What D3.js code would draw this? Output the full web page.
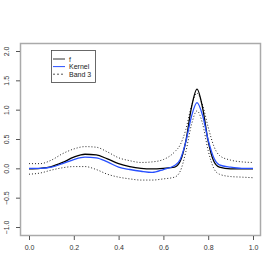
<!DOCTYPE html>
<html>
<head>
<meta charset="utf-8">
<script src="https://cdn.jsdelivr.net/npm/d3@7"></script>
<style>
  body { margin: 0; background: #fff; }
  text { font-family: "Liberation Sans", Arial, sans-serif; }
</style>
</head>
<body>
<div id="chart-area"></div>
<script>
'use strict';

let xs = [0, 0.05, 0.1, 0.15, 0.2, 0.25, 0.3, 0.35, 0.4, 0.45, 0.5, 0.55, 0.6, 0.65, 0.675, 0.7, 0.725, 0.75, 0.775, 0.8, 0.825, 0.85, 0.9, 0.95, 1.0];
let fVals = [-0.01, 0.0, 0.03, 0.1, 0.19, 0.24, 0.23, 0.16, 0.08, 0.03, 0.0, -0.01, 0.0, 0.02, 0.12, 0.46, 1.03, 1.35, 1.03, 0.46, 0.12, 0.02, -0.01, -0.01, -0.01];
let kernelVals = [0.0, 0.0, 0.02, 0.08, 0.15, 0.19, 0.18, 0.11, 0.02, -0.02, -0.05, -0.07, -0.02, 0.05, 0.15, 0.45, 0.88, 1.12, 0.9, 0.48, 0.18, 0.06, 0.02, 0.0, 0.0];
let upperVals = [0.08, 0.08, 0.14, 0.25, 0.33, 0.37, 0.36, 0.28, 0.18, 0.13, 0.1, 0.11, 0.15, 0.28, 0.4, 0.66, 1.06, 1.28, 1.08, 0.7, 0.38, 0.22, 0.14, 0.11, 0.1];
let lowerVals = [-0.1, -0.08, -0.03, 0.01, 0.03, 0.03, -0.02, -0.1, -0.15, -0.18, -0.2, -0.2, -0.18, -0.15, -0.05, 0.28, 0.74, 0.98, 0.76, 0.3, 0.0, -0.1, -0.14, -0.15, -0.16];
let xTicks = [0, 0.2, 0.4, 0.6, 0.8, 1.0];
let yTicks = [-1.0, -0.5, 0.0, 0.5, 1.0, 1.5, 2.0];
let legendNames = ['f', 'Kernel', 'Band 3'];

let width = 280, height = 280;
let svg = d3.select('#chart-area').append('svg')
    .attr('width', width)
    .attr('height', height);

let x = d3.scaleLinear().domain([0, 1]).range([29, 253]);
let y = d3.scaleLinear().domain([-1, 2]).range([227, 51]);

// plot frame
svg.append('rect')
    .attr('x', 20.5).attr('y', 43.5)
    .attr('width', 240).attr('height', 192)
    .attr('fill', 'none')
    .attr('stroke', '#aaa')
    .attr('stroke-width', 1.5);

let xAxis = svg.append('g')
    .attr('transform', 'translate(0,236)')
    .call(d3.axisBottom(x).tickValues(xTicks).tickSize(4).tickPadding(5)
        .tickFormat(d3.format('.1f')));
xAxis.select('.domain').remove();
xAxis.selectAll('line').attr('stroke', '#555');
xAxis.selectAll('text').attr('font-size', '7px').attr('fill', '#333');

let yAxis = svg.append('g')
    .attr('transform', 'translate(20,0)')
    .call(d3.axisLeft(y).tickValues(yTicks).tickSize(4).tickFormat(d3.format('.1f')));
yAxis.select('.domain').remove();
yAxis.selectAll('line').attr('stroke', '#555');
yAxis.selectAll('text')
    .attr('font-size', '7px')
    .attr('fill', '#333')
    .attr('text-anchor', 'middle')
    .attr('x', 0).attr('dy', 0)
    .attr('transform', 'translate(-11,0) rotate(-90)');

let line = d3.line()
    .x((d, i) => x(xs[i]))
    .y(d => y(d))
    .curve(d3.curveMonotoneX);

svg.append('path').datum(upperVals)
    .attr('d', line).attr('fill', 'none')
    .attr('stroke', '#222').attr('stroke-width', 1)
    .attr('stroke-dasharray', '1,2');
svg.append('path').datum(lowerVals)
    .attr('d', line).attr('fill', 'none')
    .attr('stroke', '#222').attr('stroke-width', 1)
    .attr('stroke-dasharray', '1,2');
svg.append('path').datum(fVals)
    .attr('d', line).attr('fill', 'none')
    .attr('stroke', '#000').attr('stroke-width', 1.3);
svg.append('path').datum(kernelVals)
    .attr('d', line).attr('fill', 'none')
    .attr('stroke', '#2850ff').attr('stroke-width', 1.3);

// legend
let legend = svg.append('g');
legend.append('rect')
    .attr('x', 51.5).attr('y', 50.5)
    .attr('width', 44).attr('height', 32)
    .attr('fill', '#fff').attr('stroke', '#444').attr('stroke-width', 0.8);
let legStyles = [
    { stroke: '#333', dash: null },
    { stroke: '#2850ff', dash: null },
    { stroke: '#555', dash: '2,2' },
];
legendNames.forEach((name, i) => {
    let ly = 59 + i * 7.6;
    legend.append('line')
        .attr('x1', 53).attr('x2', 65)
        .attr('y1', ly).attr('y2', ly)
        .attr('stroke', legStyles[i].stroke)
        .attr('stroke-width', 1)
        .attr('stroke-dasharray', legStyles[i].dash);
    legend.append('text')
        .attr('x', 69).attr('y', ly + 2.5)
        .attr('font-size', '7px')
        .attr('fill', '#222')
        .text(name);
});
</script>
</body>
</html>
